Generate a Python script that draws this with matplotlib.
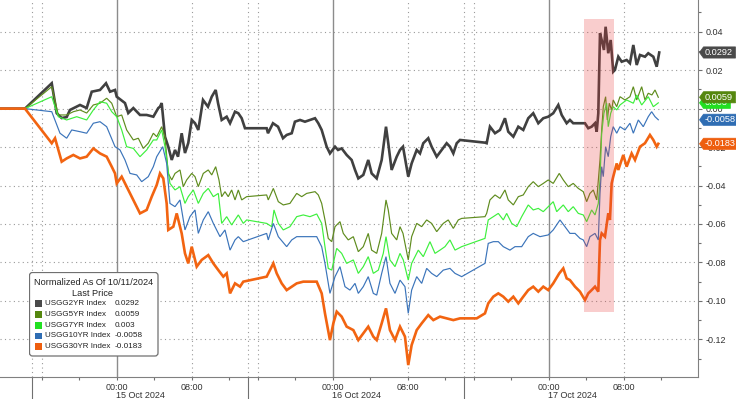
import matplotlib
matplotlib.use('Agg')
import matplotlib.pyplot as plt
import matplotlib.transforms as mtransforms
from matplotlib.patches import FancyBboxPatch, Rectangle, Polygon

# ---------------- data (x = trading hours since 14 Oct 15:00 session start) ----------------
t_2yr = [-3.44, -0.78, 2.07, 2.60, 3.13, 3.66, 4.01, 5.08, 5.79, 6.33, 7.21, 7.85, 8.28, 8.81, 8.99, 9.87,
         10.22, 10.76, 11.47, 12.18, 12.89, 13.42, 13.60, 13.78, 14.13, 14.48, 14.85, 15.20, 15.52, 15.91,
         16.26, 16.61, 16.98, 17.33, 17.68, 18.18, 18.71, 19.11, 19.53, 19.78, 20.17, 20.70, 21.06, 21.59,
         21.94, 22.30, 22.65, 24.96, 25.10, 25.63, 26.17, 26.70, 27.09, 27.63, 27.97, 28.51, 29.04, 29.57,
         30.11, 30.46, 30.82, 31.35, 31.70, 32.24, 32.56, 32.95, 33.48, 34.01, 34.37, 34.72, 35.25, 35.78,
         36.14, 36.68, 37.21, 37.67, 37.91, 38.27, 38.81, 39.16, 39.48, 40.04, 40.40, 40.94, 41.29, 41.64,
         42.17, 42.53, 43.07, 43.60, 44.13, 44.48, 44.84, 45.20, 45.55, 48.21, 48.39, 48.74, 49.28, 49.81,
         50.34, 50.69, 51.23, 51.76, 52.29, 52.82, 53.35, 53.89, 54.42, 54.95, 55.48, 56.02, 56.38, 56.91,
         57.26, 57.61, 58.33, 58.86, 59.21, 59.57, 59.93, 60.11, 60.28, 60.46, 60.64, 60.88, 61.06, 61.34,
         61.60, 61.87, 62.05, 62.41, 62.77, 63.30, 63.65, 64.01, 64.37, 64.72, 65.25, 65.60, 66.14, 66.50,
         66.77]
v_2yr = [0, 0, 0.0132, -0.0024, -0.0049, -0.0044, -0.0007, 0.0019, 0.0003, 0.0088, 0.0097, 0.0132, 0.0088,
         0.0097, 0.0062, 0.0029, -0.0023, 0.0003, -0.0033, -0.0033, -0.0042, 0.0003, 0.0010, 0.0029, -0.0146,
         -0.0198, -0.0267, -0.0215, -0.0250, -0.0128, -0.0231, -0.0179, -0.0059, -0.0076, -0.0111, 0.0045,
         0.0010, 0.0062, 0.0097, 0.0029, -0.0059, -0.0042, -0.0076, -0.0016, -0.0024, -0.0050, -0.0102,
         -0.0102, -0.0128, -0.0076, -0.0094, -0.0154, -0.0137, -0.0128, -0.0068, -0.0059, -0.0068, -0.0059,
         -0.0050, -0.0076, -0.0111, -0.0198, -0.0233, -0.0198, -0.0215, -0.0207, -0.0241, -0.0267, -0.0319,
         -0.0363, -0.0345, -0.0267, -0.0337, -0.0363, -0.0267, -0.0094, -0.0180, -0.0319, -0.0250, -0.0215,
         -0.0198, -0.0354, -0.0285, -0.0215, -0.0233, -0.0180, -0.0154, -0.0198, -0.0250, -0.0215, -0.0180,
         -0.0198, -0.0233, -0.0180, -0.0163, -0.0177, -0.0180, -0.0094, -0.0128, -0.0111, -0.0050, -0.0120,
         -0.0146, -0.0094, -0.0111, -0.0050, -0.0024, -0.0076, -0.0050, -0.0042, -0.0024, 0.0019, -0.0033,
         -0.0076, -0.0059, -0.0076, -0.0076, -0.0076, -0.0102, -0.0094, -0.0076, -0.0120, -0.0024, 0.0392,
         0.0357, 0.0305, 0.0426, 0.0288, 0.0357, 0.0192, 0.0201, 0.0270, 0.0244, 0.0253, 0.0236, 0.0331,
         0.0227, 0.0279, 0.0270, 0.0288, 0.0270, 0.0218, 0.0292]

t_5yr = [-3.44, -0.78, 2.07, 2.77, 3.66, 4.37, 5.08, 5.79, 6.50, 7.21, 7.92, 8.46, 8.99, 9.52, 10.05, 10.76,
         11.29, 11.82, 12.35, 12.89, 13.25, 13.78, 14.13, 14.48, 14.85, 15.20, 15.73, 16.08, 16.44, 16.98,
         17.33, 17.68, 18.21, 18.74, 19.11, 19.53, 19.88, 20.17, 20.52, 20.87, 21.23, 21.59, 21.94, 22.30,
         22.83, 24.96, 25.13, 25.67, 26.20, 26.73, 27.44, 28.16, 28.69, 29.22, 30.11, 30.46, 30.82, 31.17,
         31.52, 31.89, 32.24, 32.77, 33.12, 33.65, 34.19, 34.72, 35.25, 35.78, 36.14, 36.68, 37.21, 37.67,
         37.91, 38.27, 38.81, 39.16, 39.48, 40.04, 40.40, 40.94, 41.47, 42.00, 42.53, 43.07, 43.77, 44.30,
         44.84, 45.37, 45.73, 48.21, 48.39, 48.74, 49.28, 49.81, 50.34, 50.69, 51.23, 51.76, 52.29, 52.82,
         53.35, 53.89, 54.42, 54.95, 55.48, 56.12, 56.55, 57.08, 57.61, 58.15, 58.68, 59.04, 59.39, 59.75,
         60.11, 60.28, 60.46, 60.64, 60.81, 61.06, 61.24, 61.45, 61.70, 61.87, 62.24, 62.59, 63.12, 63.65,
         64.01, 64.37, 64.90, 65.25, 65.60, 65.99, 66.32, 66.67]
v_5yr = [0, 0, 0.0114, -0.0033, -0.0033, -0.0016, -0.0007, -0.0023, 0.0019, 0.0028, 0.0054, 0.0028, -0.0042,
         -0.0033, -0.0111, -0.0163, -0.0154, -0.0207, -0.0180, -0.0128, -0.0146, -0.0094, -0.0146, -0.0337,
         -0.0371, -0.0337, -0.0319, -0.0406, -0.0371, -0.0337, -0.0354, -0.0406, -0.0337, -0.0319, -0.0345,
         -0.0302, -0.0371, -0.0458, -0.0432, -0.0458, -0.0423, -0.0475, -0.0423, -0.0475, -0.0458, -0.0449,
         -0.0475, -0.0415, -0.0484, -0.0501, -0.0493, -0.0441, -0.0458, -0.0441, -0.0432, -0.0449, -0.0493,
         -0.0579, -0.0675, -0.0692, -0.0614, -0.0588, -0.0649, -0.0683, -0.0666, -0.0744, -0.0718, -0.0649,
         -0.0736, -0.0753, -0.0649, -0.0475, -0.0527, -0.0649, -0.0683, -0.0614, -0.0649, -0.0787, -0.0666,
         -0.0597, -0.0614, -0.0579, -0.0597, -0.0640, -0.0597, -0.0579, -0.0623, -0.0579, -0.0571, -0.0562,
         -0.0545, -0.0475, -0.0449, -0.0467, -0.0423, -0.0475, -0.0501, -0.0458, -0.0449, -0.0406, -0.0380,
         -0.0406, -0.0389, -0.0371, -0.0389, -0.0337, -0.0371, -0.0406, -0.0389, -0.0415, -0.0432, -0.0484,
         -0.0441, -0.0423, -0.0475, -0.0371, -0.0267, -0.0111, 0.0010, 0.0062, -0.0059, 0.0028, -0.0007,
         0.0045, 0.0010, 0.0062, 0.0045, 0.0062, 0.0114, 0.0045, 0.0114, 0.0045, 0.0080, 0.0071, 0.0097,
         0.0059]

t_7yr = [-3.44, -0.78, 2.07, 2.77, 3.66, 4.73, 5.79, 6.50, 7.21, 7.92, 8.46, 8.99, 9.52, 10.05, 10.76, 11.47,
         12.18, 12.89, 13.25, 13.78, 14.13, 14.66, 15.20, 15.73, 16.26, 16.61, 17.15, 17.68, 18.21, 18.74,
         19.28, 19.81, 20.17, 20.70, 21.23, 21.94, 22.47, 22.83, 24.96, 25.50, 25.74, 26.20, 26.73, 27.44,
         28.16, 28.86, 29.57, 30.29, 30.82, 31.17, 31.52, 31.89, 32.42, 32.95, 33.48, 34.19, 34.72, 35.25,
         35.78, 36.32, 36.85, 37.38, 37.67, 38.09, 38.63, 39.16, 39.51, 40.04, 40.40, 41.11, 41.64, 42.35,
         42.89, 43.42, 43.95, 44.48, 45.02, 45.73, 48.21, 48.56, 49.10, 49.63, 50.16, 50.52, 51.06, 51.59,
         52.12, 52.82, 53.35, 53.89, 54.42, 54.95, 55.48, 55.85, 56.55, 57.08, 57.61, 58.15, 58.68, 59.04,
         59.57, 59.93, 60.28, 60.46, 60.64, 60.88, 61.17, 61.34, 61.60, 61.87, 62.24, 62.59, 63.30, 64.01,
         64.37, 64.90, 65.60, 66.14, 66.67]
v_7yr = [0, 0, 0.0062, -0.0042, -0.0059, -0.0042, -0.0059, -0.0007, 0.0036, 0.0028, -0.0016, -0.0042, -0.0111,
         -0.0198, -0.0207, -0.0250, -0.0215, -0.0163, -0.0163, -0.0111, -0.0198, -0.0389, -0.0423, -0.0406,
         -0.0493, -0.0458, -0.0423, -0.0493, -0.0441, -0.0415, -0.0458, -0.0441, -0.0597, -0.0562, -0.0605,
         -0.0553, -0.0597, -0.0579, -0.0597, -0.0614, -0.0527, -0.0597, -0.0631, -0.0614, -0.0562, -0.0553,
         -0.0562, -0.0548, -0.0597, -0.0718, -0.0831, -0.0840, -0.0727, -0.0753, -0.0805, -0.0787, -0.0857,
         -0.0822, -0.0770, -0.0857, -0.0840, -0.0753, -0.0666, -0.0787, -0.0822, -0.0753, -0.0787, -0.0892,
         -0.0805, -0.0736, -0.0770, -0.0692, -0.0753, -0.0736, -0.0718, -0.0683, -0.0736, -0.0718, -0.0675,
         -0.0579, -0.0562, -0.0545, -0.0579, -0.0545, -0.0597, -0.0614, -0.0562, -0.0501, -0.0527, -0.0519,
         -0.0536, -0.0510, -0.0484, -0.0536, -0.0501, -0.0536, -0.0510, -0.0545, -0.0553, -0.0588, -0.0527,
         -0.0553, -0.0493, -0.0371, -0.0128, -0.0024, 0.0028, -0.0094, -0.0024, 0.0010, -0.0007, 0.0019,
         0.0045, 0.0028, 0.0071, 0.0019, 0.0062, 0.0010, 0.0030]

t_10yr = [-3.44, -0.78, 2.07, 2.95, 3.66, 4.20, 5.08, 5.79, 6.50, 7.21, 7.92, 8.81, 9.34, 9.87, 10.41, 11.12,
          11.65, 12.35, 12.89, 13.25, 13.89, 14.31, 14.66, 15.20, 15.73, 16.26, 16.79, 17.33, 17.68, 18.21,
          18.74, 19.28, 19.99, 20.52, 21.06, 21.59, 21.94, 22.47, 24.96, 25.13, 25.67, 26.20, 27.09, 27.63,
          28.16, 29.04, 30.29, 30.82, 31.17, 31.70, 32.24, 32.77, 33.30, 33.83, 34.37, 34.72, 35.25, 35.78,
          36.32, 36.68, 37.21, 37.67, 38.09, 38.63, 39.16, 39.69, 40.04, 40.40, 40.94, 41.47, 42.00, 42.53,
          43.07, 43.77, 44.48, 45.02, 45.73, 48.21, 48.56, 49.10, 49.63, 50.16, 50.87, 51.41, 52.12, 52.82,
          53.35, 54.07, 54.95, 55.48, 56.20, 56.73, 57.26, 57.80, 58.33, 58.68, 59.04, 59.39, 59.93, 60.28,
          60.46, 60.64, 60.81, 61.06, 61.34, 61.60, 61.87, 62.24, 62.59, 63.12, 63.65, 64.01, 64.54, 65.07,
          65.60, 65.96, 66.32, 66.67]
v_10yr = [0, 0, -0.0016, -0.0128, -0.0154, -0.0111, -0.0120, -0.0128, -0.0076, -0.0068, -0.0094, -0.0198,
          -0.0215, -0.0267, -0.0337, -0.0345, -0.0380, -0.0354, -0.0302, -0.0250, -0.0198, -0.0285, -0.0493,
          -0.0510, -0.0475, -0.0631, -0.0562, -0.0527, -0.0649, -0.0579, -0.0536, -0.0597, -0.0666, -0.0631,
          -0.0736, -0.0683, -0.0666, -0.0692, -0.0649, -0.0683, -0.0597, -0.0666, -0.0718, -0.0683, -0.0666,
          -0.0666, -0.0666, -0.0718, -0.0805, -0.0961, -0.0874, -0.0822, -0.0926, -0.0944, -0.0909, -0.0961,
          -0.0926, -0.0874, -0.0961, -0.0970, -0.0857, -0.0770, -0.0909, -0.0961, -0.0892, -0.0926, -0.1065,
          -0.0944, -0.0874, -0.0909, -0.0831, -0.0857, -0.0874, -0.0840, -0.0831, -0.0857, -0.0874, -0.0805,
          -0.0701, -0.0692, -0.0692, -0.0718, -0.0736, -0.0718, -0.0718, -0.0666, -0.0649, -0.0666, -0.0657,
          -0.0631, -0.0579, -0.0614, -0.0649, -0.0649, -0.0675, -0.0683, -0.0718, -0.0666, -0.0649, -0.0683,
          -0.0441, -0.0302, -0.0354, -0.0198, -0.0250, -0.0146, -0.0094, -0.0128, -0.0094, -0.0111, -0.0076,
          -0.0128, -0.0059, -0.0094, -0.0042, -0.0016, -0.0042, -0.0058]

t_30yr = [-3.44, -0.78, 2.07, 2.42, 3.13, 3.66, 4.37, 5.08, 5.79, 6.50, 7.21, 7.92, 8.46, 8.81, 8.99, 9.52,
          10.05, 10.76, 11.47, 12.18, 12.72, 13.25, 13.60, 13.95, 14.31, 14.48, 15.02, 15.38, 15.91, 16.26,
          16.61, 16.98, 17.51, 18.04, 18.74, 19.28, 19.81, 20.34, 20.70, 21.06, 21.59, 22.12, 22.47, 24.96,
          25.31, 25.67, 26.03, 26.56, 27.09, 27.63, 28.16, 28.86, 29.57, 30.29, 30.82, 31.17, 31.70, 32.06,
          32.42, 32.95, 33.48, 34.19, 34.72, 35.25, 35.78, 36.32, 36.68, 37.21, 37.67, 38.09, 38.63, 39.16,
          39.69, 40.04, 40.40, 40.94, 41.47, 42.17, 42.71, 43.42, 44.13, 44.84, 45.55, 47.33, 48.21, 48.56,
          49.10, 49.63, 50.16, 50.69, 51.23, 51.76, 52.29, 52.82, 53.35, 53.89, 54.42, 54.95, 55.48, 56.12,
          56.55, 56.91, 57.26, 57.80, 58.33, 58.86, 59.21, 59.57, 59.93, 60.28, 60.46, 60.64, 60.99, 61.34,
          61.52, 61.70, 61.87, 62.24, 62.41, 62.94, 63.30, 63.83, 64.19, 64.72, 65.25, 65.78, 66.14, 66.50,
          66.67]
v_30yr = [0, 0, -0.0180, -0.0154, -0.0276, -0.0259, -0.0241, -0.0259, -0.0250, -0.0207, -0.0233, -0.0250,
          -0.0302, -0.0337, -0.0389, -0.0354, -0.0406, -0.0475, -0.0545, -0.0527, -0.0458, -0.0397, -0.0337,
          -0.0363, -0.0493, -0.0631, -0.0614, -0.0545, -0.0649, -0.0753, -0.0805, -0.0718, -0.0822, -0.0787,
          -0.0762, -0.0805, -0.0840, -0.0874, -0.0857, -0.0961, -0.0909, -0.0926, -0.0900, -0.0874, -0.0840,
          -0.0805, -0.0857, -0.0909, -0.0944, -0.0926, -0.0909, -0.0900, -0.0900, -0.0900, -0.0961, -0.1065,
          -0.1204, -0.1117, -0.1056, -0.1082, -0.1134, -0.1152, -0.1204, -0.1169, -0.1134, -0.1186, -0.1204,
          -0.1117, -0.1039, -0.1152, -0.1204, -0.1134, -0.1186, -0.1334, -0.1230, -0.1152, -0.1117, -0.1074,
          -0.1100, -0.1082, -0.1091, -0.1100, -0.1091, -0.1091, -0.1065, -0.1013, -0.0978, -0.0961, -0.0978,
          -0.1004, -0.0978, -0.1013, -0.0978, -0.0944, -0.0926, -0.0952, -0.0926, -0.0944, -0.0909, -0.0857,
          -0.0831, -0.0883, -0.0892, -0.0926, -0.0952, -0.0996, -0.0961, -0.0944, -0.0926, -0.0952, -0.0683,
          -0.0649, -0.0666, -0.0545, -0.0579, -0.0389, -0.0354, -0.0285, -0.0319, -0.0241, -0.0302, -0.0233,
          -0.0267, -0.0198, -0.0180, -0.0137, -0.0163, -0.0198, -0.0183]

series_names = ['USGG2YR Index', 'USGG5YR Index', 'USGG7YR Index', 'USGG10YR Index', 'USGG30YR Index']
last_labels = ['0.0292', '0.0059', '0.003', '-0.0058', '-0.0183']
last_values = [0.0292, 0.0059, 0.003, -0.0058, -0.0183]

legend_title = 'Normalized As Of 10/11/2024'
legend_sub = 'Last Price'

session_starts = [0, 23, 46]
midnights = [9, 32, 55]
eight_am = [17, 40, 63]
hour_after_start = [1, 24, 47]
minor_hours = [1, 5, 9, 13, 17, 21, 24, 28, 32, 36, 40, 44, 47, 51, 55, 59, 63, 67]
major_hours = [9, 17, 32, 40, 55, 63]
major_labels = ['00:00', '08:00', '00:00', '08:00', '00:00', '08:00']
day_labels = ['15 Oct 2024', '16 Oct 2024', '17 Oct 2024']
y_major = [-0.12, -0.10, -0.08, -0.06, -0.04, -0.02, 0.00, 0.02, 0.04]
y_minor = [-0.13, -0.11, -0.09, -0.07, -0.05, -0.03, -0.01, 0.01, 0.03, 0.05]
y_labels = ['-0.12', '-0.10', '-0.08', '-0.06', '-0.04', '-0.02', '0.00', '0.02', '0.04']
highlight_t = (58.76, 61.92)
highlight_v = (-0.1056, 0.0466)

# ---------------- styling ----------------
colors = ['#404040', '#5f8c1e', '#3df03d', '#3b74ba', '#f26411']
tag_colors = ['#4a4a4a', '#55870f', '#22e022', '#2f6db3', '#ee5e0e']
widths = [1.9, 0.85, 0.85, 0.85, 1.9]

plt.rcParams['font.family'] = ['Liberation Sans', 'DejaVu Sans']
W, H = 736, 399
fig = plt.figure(figsize=(W / 100, H / 100), dpi=100)
ax = fig.add_axes([0, 1 - 377 / H, 698.3 / W, 377 / H])
ax.set_xlim(-3.44, 70.93)
ax.set_ylim(-0.1396, 0.0565)

grid_kw = dict(color='#9a9a9a', lw=0.8, ls=(0, (1, 3)), zorder=0.5)
for y in y_major:
    ax.axhline(y, **grid_kw)
for x in eight_am + session_starts + hour_after_start:
    ax.axvline(x, **grid_kw)
for x in midnights:
    ax.axvline(x, color='#8c8c8c', lw=1.0, zorder=0.6)

data = [(t_2yr, v_2yr), (t_5yr, v_5yr), (t_7yr, v_7yr), (t_10yr, v_10yr), (t_30yr, v_30yr)]
for (tt, vv), c, w in zip(data, colors, widths):
    ax.plot(tt, vv, color=c, lw=w, solid_joinstyle='miter', zorder=2)

ax.add_patch(Rectangle((highlight_t[0], highlight_v[0]), highlight_t[1] - highlight_t[0],
                       highlight_v[1] - highlight_v[0], facecolor='#e83a3a', alpha=0.25,
                       edgecolor='none', zorder=3))

for s in ['left', 'top']:
    ax.spines[s].set_visible(False)
for s in ['right', 'bottom']:
    ax.spines[s].set_color('#808080')
    ax.spines[s].set_linewidth(0.8)

ax.yaxis.tick_right()
ax.set_yticks(y_major)
ax.set_yticklabels(y_labels)
ax.set_yticks(y_minor, minor=True)
ax.tick_params(axis='y', which='major', direction='out', length=3, width=0.8, color='#707070',
               labelsize=6.5, labelcolor='#333333', pad=2)
ax.tick_params(axis='y', which='minor', direction='out', length=2, width=0.8, color='#707070')

ax.set_xticks(major_hours)
ax.set_xticklabels(major_labels)
ax.set_xticks(minor_hours, minor=True)
ax.tick_params(axis='x', which='both', direction='out', length=2.5, width=0.8, color='#707070',
               labelsize=6.5, labelcolor='#333333', pad=1.5)

xt = ax.get_xaxis_transform()
for x in session_starts:
    ax.plot([x, x], [0, -22 / 377], transform=xt, color='#707070', lw=0.8, clip_on=False)
for x, lab in zip(midnights, day_labels):
    ax.text(x - 0.05, -18 / 377, lab, transform=xt, ha='left', va='center', fontsize=6.5,
            color='#333333', clip_on=False)

# value tags on the right (arrow-shaped boxes)
renderer = fig.canvas.get_renderer()
ident = mtransforms.IdentityTransform()
tip_x = 699.5
for k, idx in enumerate([2, 1, 3, 0, 4]):
    yc = ax.transData.transform((0, last_values[idx]))[1]
    txt = fig.text(704.5 / W, yc / H, last_labels[idx], ha='left', va='center', fontsize=6.6,
                   color='white', zorder=20 + 2 * k + 1)
    bb = txt.get_window_extent(renderer)
    x1 = min(bb.x1 + 3, W + 2)
    hh = 5.6
    verts = [(tip_x, yc), (703.5, yc + hh), (x1, yc + hh), (x1, yc - hh), (703.5, yc - hh)]
    fig.add_artist(Polygon(verts, closed=True, transform=ident, fc=tag_colors[idx],
                           ec=tag_colors[idx], lw=0.5, zorder=20 + 2 * k))

# legend box
lax = fig.add_axes([29 / W, 1 - 357 / H, 130 / W, 85 / H])
lax.set_xlim(29, 159)
lax.set_ylim(357, 272)
lax.axis('off')
lax.add_patch(FancyBboxPatch((29.5, 272.5), 128.5, 83.5, boxstyle='round,pad=0,rounding_size=3',
                             fc='white', ec='#707070', lw=0.9))
lax.text(94, 282.5, legend_title, ha='center', va='center', fontsize=6.6, color='#222222')
lax.text(93, 293.5, legend_sub, ha='center', va='center', fontsize=6.6, color='#222222')
for i, (nm, val, c) in enumerate(zip(series_names, last_labels, tag_colors)):
    y = 303.5 + i * 10.8
    lax.add_patch(Rectangle((35, y - 3.4), 6.8, 6.8, fc=c, ec='none'))
    lax.text(45, y, nm, ha='left', va='center', fontsize=5.8, color='#222222')
    lax.text(114.5, y, val, ha='left', va='center', fontsize=5.9, color='#222222')

fig.savefig('out.png', dpi=100)
